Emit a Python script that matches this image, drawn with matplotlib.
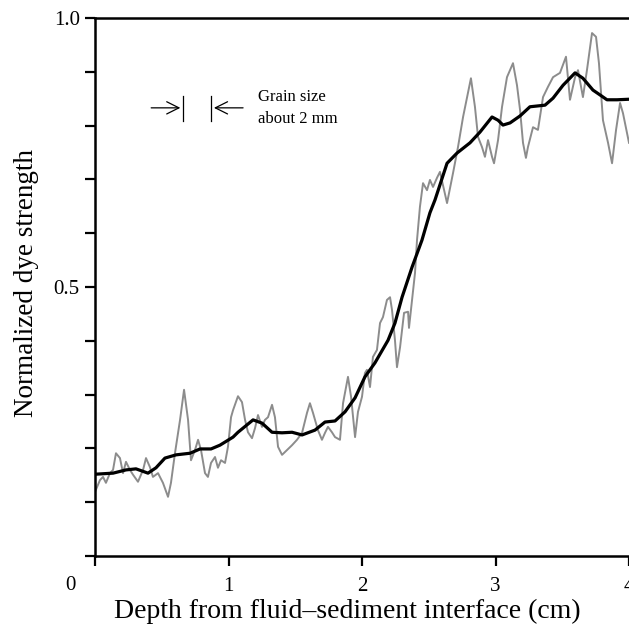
import numpy as np
import matplotlib.pyplot as plt

plt.rcParams['font.family'] = ['Liberation Serif', 'DejaVu Serif']

# raw dye signal (grey trace), depth in cm
raw_depth = [0.000, 0.037, 0.060, 0.082, 0.112, 0.135, 0.157, 0.187, 0.210, 0.232,
             0.262, 0.285, 0.322, 0.360, 0.382, 0.412, 0.434, 0.472, 0.509, 0.547,
             0.569, 0.599, 0.637, 0.667, 0.697, 0.719, 0.749, 0.772, 0.794, 0.824,
             0.846, 0.869, 0.899, 0.921, 0.944, 0.974, 0.996, 1.019, 1.034, 1.071,
             1.101, 1.124, 1.146, 1.176, 1.199, 1.221, 1.251, 1.273, 1.296, 1.326,
             1.348, 1.371, 1.401, 1.438, 1.476, 1.513, 1.551, 1.588, 1.610, 1.633,
             1.670, 1.700, 1.723, 1.745, 1.775, 1.798, 1.835, 1.858, 1.895, 1.918,
             1.948, 1.970, 2.000, 2.022, 2.037, 2.060, 2.082, 2.112, 2.135, 2.157,
             2.187, 2.210, 2.225, 2.247, 2.262, 2.285, 2.315, 2.345, 2.352, 2.375,
             2.397, 2.412, 2.434, 2.457, 2.487, 2.509, 2.532, 2.562, 2.584, 2.637,
             2.682, 2.719, 2.757, 2.794, 2.816, 2.846, 2.869, 2.899, 2.921, 2.944,
             2.974, 2.989, 3.019, 3.049, 3.086, 3.131, 3.161, 3.184, 3.206, 3.228,
             3.243, 3.281, 3.318, 3.356, 3.393, 3.431, 3.483, 3.528, 3.558, 3.596,
             3.618, 3.655, 3.685, 3.723, 3.753, 3.775, 3.805, 3.843, 3.873, 3.903,
             3.933, 3.955, 3.985, 4.000]
raw_dye = [0.119, 0.141, 0.147, 0.136, 0.154, 0.160, 0.191, 0.182, 0.154, 0.175,
           0.160, 0.151, 0.138, 0.160, 0.182, 0.165, 0.147, 0.154, 0.136, 0.110,
           0.136, 0.191, 0.253, 0.309, 0.253, 0.178, 0.197, 0.216, 0.197, 0.154,
           0.147, 0.173, 0.184, 0.164, 0.178, 0.173, 0.203, 0.258, 0.271, 0.297,
           0.286, 0.253, 0.230, 0.219, 0.238, 0.262, 0.240, 0.253, 0.258, 0.281,
           0.258, 0.203, 0.188, 0.197, 0.206, 0.216, 0.229, 0.266, 0.284, 0.266,
           0.234, 0.216, 0.229, 0.240, 0.230, 0.221, 0.216, 0.284, 0.333, 0.296,
           0.221, 0.268, 0.296, 0.340, 0.346, 0.314, 0.370, 0.383, 0.433, 0.444,
           0.476, 0.481, 0.457, 0.401, 0.351, 0.388, 0.452, 0.454, 0.424, 0.476,
           0.526, 0.587, 0.649, 0.693, 0.680, 0.699, 0.686, 0.703, 0.714, 0.656,
           0.712, 0.760, 0.816, 0.861, 0.888, 0.835, 0.779, 0.760, 0.742, 0.773,
           0.742, 0.730, 0.773, 0.835, 0.890, 0.916, 0.875, 0.829, 0.768, 0.740,
           0.760, 0.797, 0.792, 0.853, 0.872, 0.890, 0.898, 0.928, 0.848, 0.890,
           0.903, 0.853, 0.903, 0.972, 0.965, 0.916, 0.810, 0.768, 0.730, 0.792,
           0.842, 0.823, 0.786, 0.768]

# smoothed profile (black curve)
smooth_depth = [0.000, 0.135, 0.232, 0.307, 0.397, 0.457, 0.524, 0.607, 0.712, 0.787,
                0.869, 0.936, 1.034, 1.071, 1.184, 1.251, 1.326, 1.401, 1.476, 1.551,
                1.648, 1.723, 1.798, 1.873, 1.948, 2.022, 2.097, 2.195, 2.247, 2.300,
                2.375, 2.449, 2.509, 2.547, 2.637, 2.712, 2.809, 2.884, 2.974, 3.019,
                3.056, 3.109, 3.184, 3.258, 3.371, 3.431, 3.506, 3.596, 3.655, 3.730,
                3.783, 3.835, 3.910, 4.000]
smooth_dye = [0.152, 0.154, 0.160, 0.162, 0.154, 0.164, 0.182, 0.188, 0.191, 0.199,
              0.199, 0.206, 0.221, 0.230, 0.253, 0.247, 0.230, 0.229, 0.230, 0.225,
              0.234, 0.249, 0.251, 0.268, 0.294, 0.333, 0.359, 0.401, 0.433, 0.481,
              0.537, 0.587, 0.638, 0.662, 0.730, 0.749, 0.768, 0.788, 0.816, 0.810,
              0.801, 0.805, 0.818, 0.835, 0.838, 0.851, 0.875, 0.898, 0.888, 0.866,
              0.857, 0.848, 0.848, 0.849]

fig = plt.figure(figsize=(6.29, 6.32), dpi=100)
ax = fig.add_axes([95/629, 76/632, 534/629, 538/632])

ax.plot(raw_depth, raw_dye, color='0.55', lw=1.4)
ax.plot(smooth_depth, smooth_dye, color='black', lw=2.3)

ax.set_xlim(0, 4)
ax.set_ylim(0, 1.0)

ax.spines['right'].set_visible(False)
for s in ['left', 'bottom', 'top']:
    ax.spines[s].set_linewidth(1.8)

ax.set_xticks([0, 1, 2, 3, 4])
ax.set_xticklabels(['', '1', '2', '3', '4'])
yt = np.arange(0, 1.01, 0.1)
ax.set_yticks(yt)
ax.set_yticklabels(['0.5' if abs(v - 0.5) < 1e-6 else '1.0' if abs(v - 1) < 1e-6 else ''
                    for v in yt])
ax.tick_params(direction='out', length=7, width=1.6, labelsize=15)
ax.tick_params(axis='x', pad=8)
ax.tick_params(axis='y', pad=4)

ax.annotate('0', xy=(0, 0), xycoords=('data', 'axes fraction'), xytext=(-25, -20),
            textcoords='offset pixels', ha='center', va='top', fontsize=15)

ax.set_xlabel('Depth from fluid\u2013sediment interface (cm)', fontsize=20)
ax.set_ylabel('Normalized dye strength', fontsize=19.5)
ax.xaxis.set_label_coords(0.473, -0.080)
ax.yaxis.set_label_coords(-0.105, 0.507)

# grain size marker
ax.annotate('', xy=(0.66, 0.833), xytext=(0.40, 0.833),
            arrowprops=dict(arrowstyle='->', lw=0.9, color='black', mutation_scale=22))
ax.annotate('', xy=(0.87, 0.833), xytext=(1.13, 0.833),
            arrowprops=dict(arrowstyle='->', lw=0.9, color='black', mutation_scale=22))
ax.plot([0.66, 0.66], [0.808, 0.855], color='black', lw=0.9)
ax.plot([0.87, 0.87], [0.808, 0.855], color='black', lw=0.9)
ax.text(1.22, 0.833, 'Grain size\nabout 2 mm', fontsize=12, va='center', ha='left',
        linespacing=1.45)

fig.savefig('out.png', dpi=100)
